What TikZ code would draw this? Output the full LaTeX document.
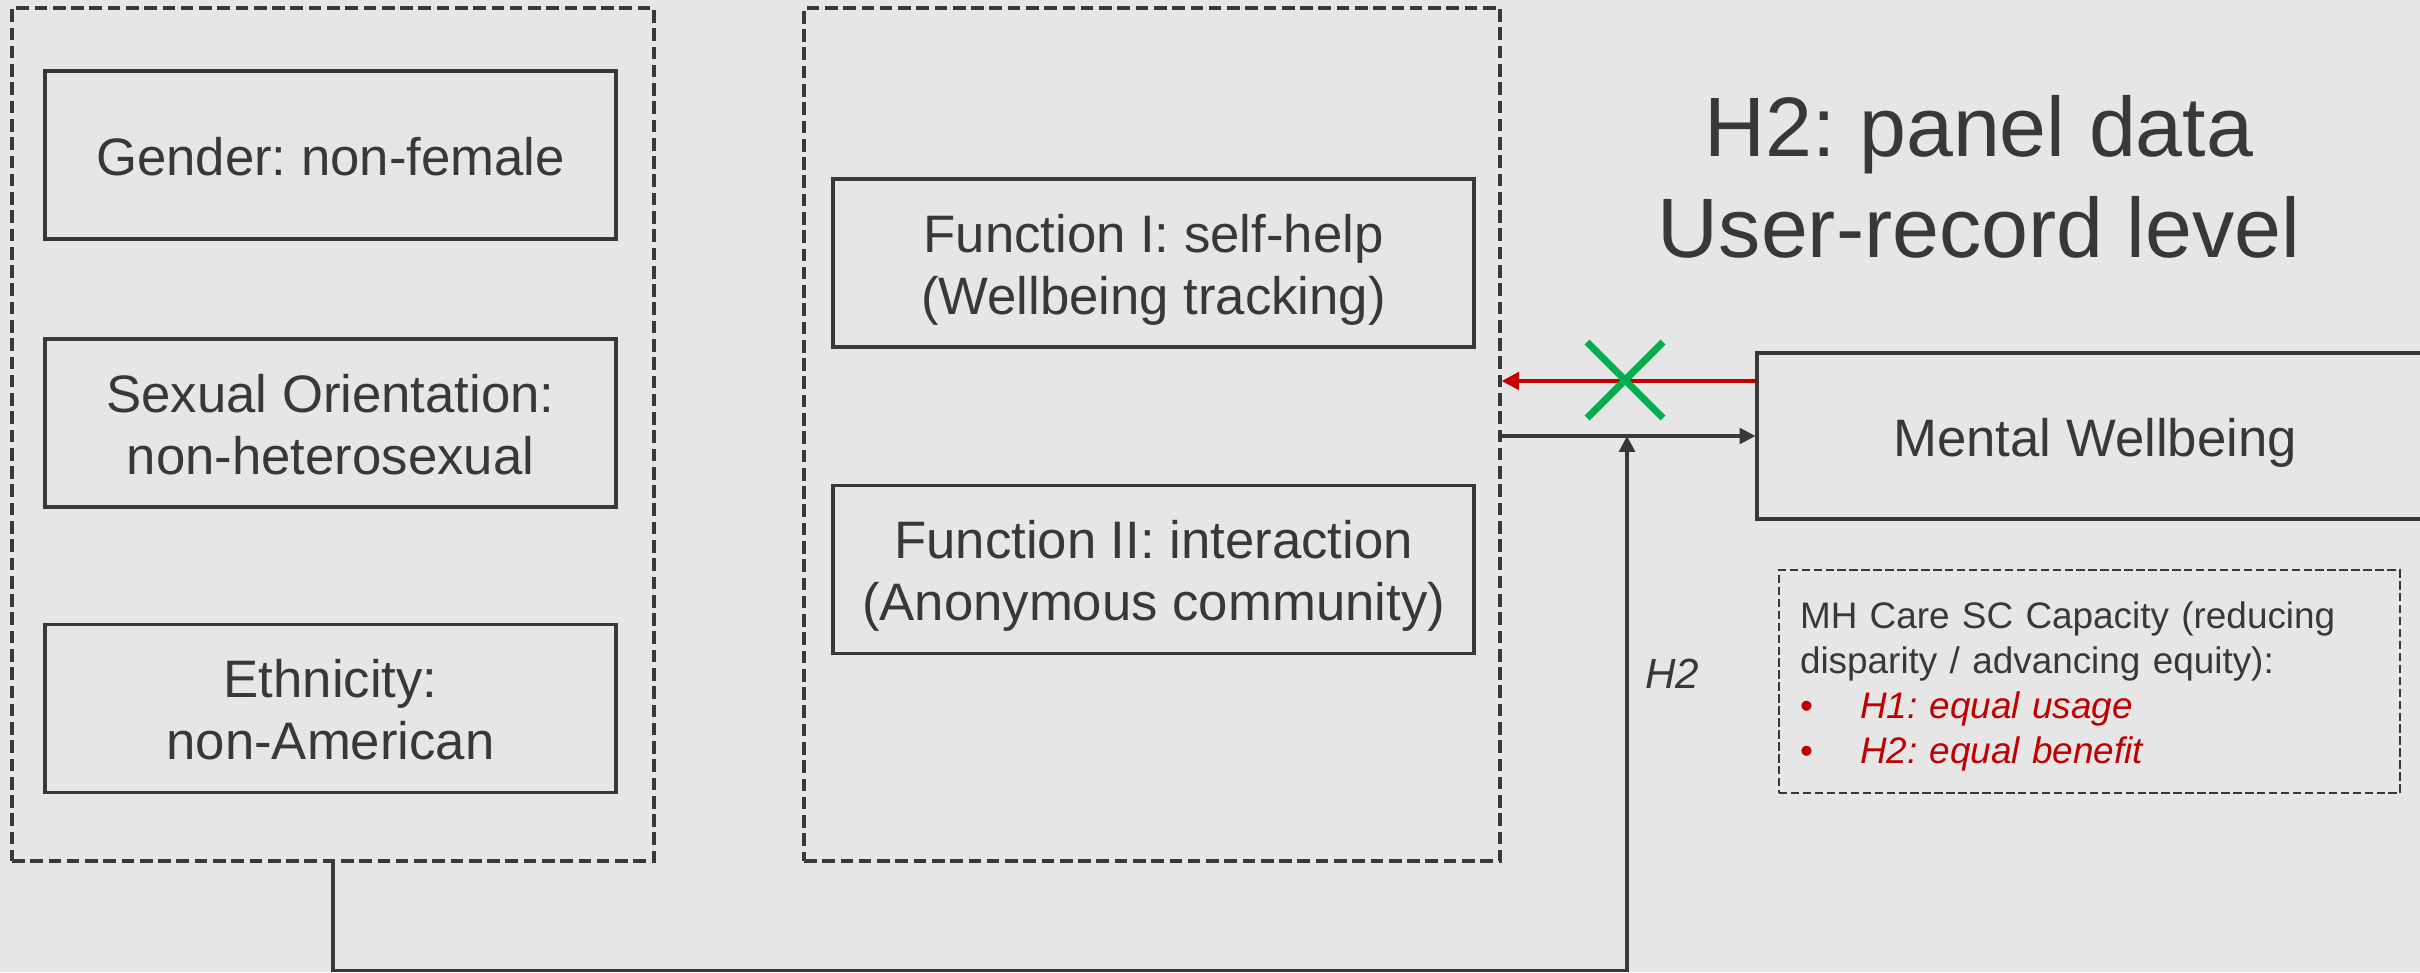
\documentclass[tikz,border=0pt]{standalone}
\usepackage{fontspec}
\setmainfont{Liberation Sans}
\frenchspacing
\usetikzlibrary{arrows.meta}
\definecolor{bg}{HTML}{E6E6E6}
\definecolor{ink}{HTML}{383838}
\definecolor{dred}{HTML}{C00000}
\definecolor{xgreen}{HTML}{00B050}
\newcommand\lowr[1]{\raisebox{-2.2pt}[\height][\depth]{\begin{tabular}{@{}c@{}}#1\end{tabular}}}
\begin{document}
\begin{tikzpicture}[b/.style={draw=ink, line width=0.9pt, minimum width=5.71cm, minimum height=1.68cm, text=ink, inner sep=0pt, font=\fontsize{15}{17.6}\selectfont},
    g/.style={draw=ink, line width=0.9pt, dash pattern=on 3.6pt off 1.6pt, minimum height=8.53cm},
    a/.style={-{Triangle[length=4.5pt,width=4.5pt]}, line width=0.9pt, draw=ink}]
  \fill[bg] (0,0) rectangle (24.2,-9.72);
  \useasboundingbox (0,0) rectangle (24.2,-9.72);
  % groups and boxes
  \node[g, minimum width=6.42cm] (lg) at (3.33,-4.345) {};
  \node[g, minimum width=6.96cm] (fn) at (11.52,-4.345) {};
  \node[b] (gen) at (3.305,-1.55) {\lowr{Gender: non-female}};
  \node[b] (sex) at (3.305,-4.23) {\lowr{Sexual Orientation:\\non-heterosexual}};
  \node[b] (eth) at (3.305,-7.085) {\lowr{Ethnicity:\\non-American}};
  \node[b, minimum width=6.41cm] (f1) at (11.535,-2.63) {\lowr{Function I: self-help\\(Wellbeing tracking)}};
  \node[b, minimum width=6.41cm] (f2) at (11.535,-5.695) {\lowr{Function II: interaction\\(Anonymous community)}};
  \node[b, minimum width=6.76cm, minimum height=1.66cm] (mw) at (20.95,-4.36) {\lowr{Mental Wellbeing}};
  \node[text=ink, align=center, font=\fontsize{24}{28.7}\selectfont] (ttl) at (19.79,-1.77) {H2: panel data\\User-record level};
  \node[draw=ink, line width=0.5pt, dash pattern=on 2.4pt off 1pt, minimum width=6.21cm, minimum height=2.23cm, text width=5.79cm, inner xsep=0.21cm, align=left, text=ink, font=\fontsize{10.5}{12.8}\selectfont] (mh) at (20.895,-6.815)
    {\rule{0pt}{10.4pt}MH Care SC Capacity (reducing\\disparity / advancing equity):\\{\color{dred}\makebox[0.6cm][l]{•}\textit{H1: equal usage}}\\{\color{dred}\makebox[0.6cm][l]{•}\textit{H2: equal benefit}}};
  \node[text=ink, font=\fontsize{12}{14}\selectfont] (h2) at (16.72,-6.74) {\textit{H2}};
  % connectors
  \coordinate (r) at ([yshift=0.55cm]mw.west);
  \coordinate (j) at (16.27,-4.36);
  \draw[a, draw=dred, line width=1.1pt, -{Triangle[length=5pt,width=5pt]}] (r) -- (r -| fn.east);
  \draw[a] (fn.east |- mw.west) -- (mw.west);
  \draw[a] (lg.south) -- ++(0,-1.08) -| (j);
  % cross
  \coordinate (x) at (16.25,-3.80);
  \draw[xgreen, line width=2pt] (x) ++(-0.38,-0.38) -- ++(0.76,0.76) (x) ++(-0.38,0.38) -- ++(0.76,-0.76);
\end{tikzpicture}
\end{document}
